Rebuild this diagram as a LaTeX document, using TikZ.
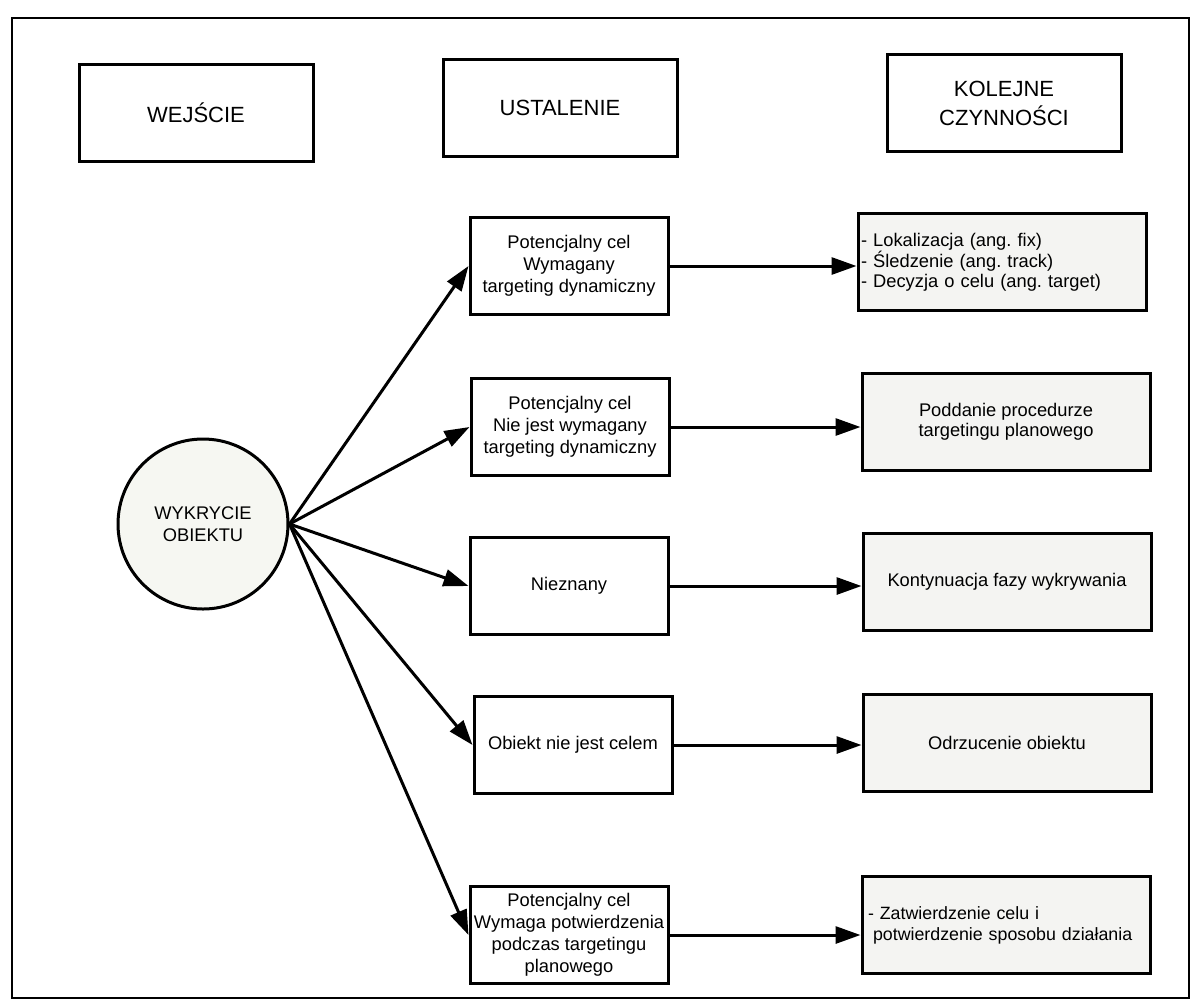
\documentclass[tikz,border=0pt]{standalone}
\usepackage{fontspec}
\setmainfont{Liberation Sans}
\usetikzlibrary{arrows.meta}
\definecolor{panel}{HTML}{F4F4F2}
\definecolor{disc}{HTML}{F6F7F2}
\frenchspacing
\begin{document}
\begin{tikzpicture}[x=1pt,y=-1pt,
  every node/.style={inner sep=2pt},
  head/.style={draw,line width=3pt,fill=white,minimum width=234pt,minimum height=97pt,
    align=center,font=\fontsize{22}{29}\selectfont},
  mid/.style={draw,line width=3pt,fill=white,minimum width=198pt,minimum height=97pt,
    align=center,font=\fontsize{18.3}{22}\selectfont},
  act/.style={draw,line width=3pt,fill=panel,minimum width=288pt,minimum height=97pt,
    font=\fontsize{18.3}{20}\selectfont},
  hub/.style={draw,circle,line width=3pt,fill=disc,minimum size=170pt,align=center,
    font=\fontsize{18.3}{22}\selectfont},
  link/.style={line width=3pt,-{Triangle[length=25pt,width=17pt]}}]
\useasboundingbox (0,0) rectangle (1193,1005);
% outer frame
\draw[line width=2.2pt] (12,18) rectangle (1189,998);

% column headers
\node[head] (h1) at (196,113) {WEJŚCIE};
\node[head] (h2) at (560,108) {USTALENIE};
\node[head] (h3) at (1004,103) {KOLEJNE\\CZYNNOŚCI};

% detection
\node[hub] (det) at (203,524) {WYKRYCIE\\OBIEKTU};

% assessment column
\node[mid] (m1) at (569,266) {Potencjalny cel\\Wymagany\\targeting dynamiczny};
\node[mid] (m2) at (570,427) {Potencjalny cel\\Nie jest wymagany\\targeting dynamiczny};
\node[mid] (m3) at (569,586) {Nieznany};
\node[mid] (m4) at (573,745) {Obiekt nie jest celem};
\node[mid] (m5) at (569,935) {Potencjalny cel\\Wymaga potwierdzenia\\podczas targetingu\\planowego};

% follow-up column
\node[act,align=left,text width=282pt] (r1) at (1002,262)
  {- Lokalizacja (ang. fix)\\- Śledzenie (ang. track)\\- Decyzja o celu (ang. target)};
\node[act,align=center] (r2) at (1006,422) {Poddanie procedurze\\targetingu planowego};
\node[act,align=center] (r3) at (1007,582) {Kontynuacja fazy wykrywania};
\node[act,align=center] (r4) at (1007,743) {Odrzucenie obiektu};
\node[act,align=left,text width=276pt,font=\fontsize{17.8}{21}\selectfont] (r5) at (1006,925)
  {- Zatwierdzenie celu i\\\mbox{\hspace{5pt}potwierdzenie sposobu działania}};

% connectors
\foreach \m in {m1,m2,m3,m4,m5}
  \draw[link] (det.east) -- (\m.west);
\foreach \m/\r in {m1/r1,m2/r2,m3/r3,m4/r4,m5/r5}
  \draw[link] (\m.east) -- (\m.east -| \r.west);
\end{tikzpicture}
\end{document}
